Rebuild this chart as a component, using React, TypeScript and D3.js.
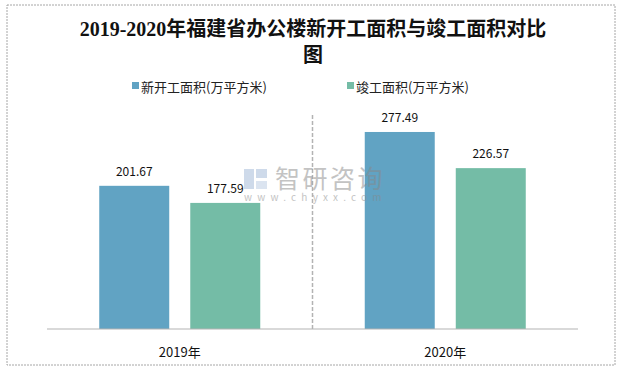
import React from "react";
import * as d3 from "d3";

// chart data
const years = ["2019年", "2020年"];
const seriesNames = ["新开工面积(万平方米)", "竣工面积(万平方米)"];
const newStarts = [201.67, 277.49];
const completed = [177.59, 226.57];
const colors = ["#61a3c3", "#74bca6"];

const W = 626;
const H = 371;
const margin = { top: 116, right: 48, bottom: 42, left: 47 };

const sans = "'Noto Sans CJK SC', 'Liberation Sans', sans-serif";
const titleFont = "'Liberation Serif', 'Noto Sans CJK SC', serif";

export default function App() {
  const x0 = d3
    .scaleBand<string>()
    .domain(years)
    .range([margin.left, W - margin.right]);
  const x1 = d3
    .scaleBand<number>()
    .domain([0, 1])
    .range([0, x0.bandwidth()])
    .paddingInner(0.231)
    .paddingOuter(0.574);
  const y = d3
    .scaleLinear()
    .domain([0, 300])
    .range([H - margin.bottom, margin.top]);

  const series = [newStarts, completed];
  const baseY = y(0);

  return (
    <svg
      width={W}
      height={H}
      style={{ position: "absolute", left: 0, top: 0, background: "#fff" }}
    >
      {/* outer frame */}
      <rect
        x={7}
        y={5}
        width={608}
        height={360}
        fill="none"
        stroke="#a6a6a6"
        strokeDasharray="2,1"
      />

      {/* title */}
      <text
        x={313}
        y={36}
        textAnchor="middle"
        fontFamily={titleFont}
        fontWeight="bold"
        fontSize={20}
        fill="#111"
      >
        2019-2020年福建省办公楼新开工面积与竣工面积对比
      </text>
      <text
        x={313}
        y={62}
        textAnchor="middle"
        fontFamily={titleFont}
        fontWeight="bold"
        fontSize={20}
        fill="#111"
      >
        图
      </text>

      {/* legend */}
      {seriesNames.map((name, i) => {
        const lx = i === 0 ? 132 : 347;
        return (
          <g key={name}>
            <rect x={lx} y={82} width={7} height={7} fill={colors[i]} />
            <text x={lx + 9} y={92} fontFamily={sans} fontSize={13} fill="#222">
              {name}
            </text>
          </g>
        );
      })}

      {/* divider between categories */}
      <line
        x1={x0(years[1])}
        x2={x0(years[1])}
        y1={margin.top - 1}
        y2={baseY}
        stroke="#b3b3b3"
        strokeWidth={1.5}
        strokeDasharray="4,2"
      />

      {/* bars */}
      {years.map((yr, gi) => (
        <g key={yr} transform={`translate(${x0(yr)},0)`}>
          {series.map((vals, si) => {
            const v = vals[gi];
            const bx = x1(si)!;
            return (
              <g key={si}>
                <rect
                  x={bx}
                  y={y(v)}
                  width={x1.bandwidth()}
                  height={baseY - y(v)}
                  fill={colors[si]}
                />
                <text
                  x={bx + x1.bandwidth() / 2}
                  y={y(v) - 10}
                  textAnchor="middle"
                  fontFamily={sans}
                  fontSize={12}
                  fill="#111"
                >
                  {v.toFixed(2)}
                </text>
              </g>
            );
          })}
          <text
            x={x0.bandwidth() / 2}
            y={357}
            textAnchor="middle"
            fontFamily={sans}
            fontSize={13}
            fill="#111"
          >
            {yr}
          </text>
        </g>
      ))}

      {/* x axis line */}
      <line
        x1={margin.left}
        x2={W - margin.right}
        y1={baseY}
        y2={baseY}
        stroke="#b3b3b3"
        strokeWidth={1.2}
      />

      {/* watermark on top */}
      <g opacity={0.5}>
        <rect x={244} y={169} width={10} height={20} fill="#9fb7d6" />
        <rect x={256} y={169} width={11} height={9} fill="#9fb7d6" />
        <rect x={256} y={181} width={11} height={8} fill="#b9cbe2" />
        <text x={275} y={188} fontFamily={sans} fontSize={25} fill="#888" letterSpacing={2.5}>
          智研咨询
        </text>
        <text x={244} y={201} fontFamily={sans} fontSize={10} fill="#888" letterSpacing={5.2}>
          www.chyxx.com
        </text>
      </g>
    </svg>
  );
}
